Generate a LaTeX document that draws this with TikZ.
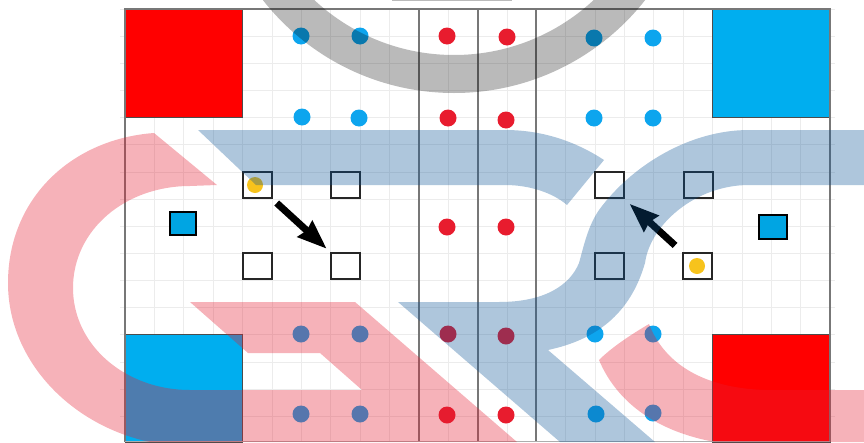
\documentclass[tikz,border=0pt]{standalone}
\usepackage{xcolor}
\definecolor{cRed}{HTML}{FF0000}
\definecolor{cBlue}{HTML}{00AEEF}
\definecolor{cDotR}{HTML}{E81C2E}
\definecolor{cDotB}{HTML}{0DA5EE}
\definecolor{cGold}{HTML}{F7C31C}
\definecolor{rule}{HTML}{777777}
\definecolor{gridc}{HTML}{ECECEC}
\definecolor{markR}{HTML}{E51E32}
\definecolor{markB}{HTML}{0A5294}
\usetikzlibrary{arrows.meta}

\begin{document}
\begin{tikzpicture}[
  x=1pt,y=-1pt,
  zone/.style={draw=black!70,line width=0.8pt,minimum width=117.5pt,minimum height=108pt,inner sep=0pt},
  redz/.style={zone,fill=cRed},
  bluez/.style={zone,fill=cBlue},
  reddot/.style={circle,fill=cDotR,minimum size=17pt,inner sep=0pt},
  bluedot/.style={circle,fill=cDotB,minimum size=17pt,inner sep=0pt},
  golddot/.style={circle,fill=cGold,minimum size=16pt,inner sep=0pt},
  cell/.style={draw=black!85,line width=2pt,minimum width=29pt,minimum height=26pt,inner sep=0pt},
  base/.style={draw=black,line width=2pt,fill=cBlue!95!black,minimum width=26pt,minimum height=23pt,inner sep=0pt},
  move/.style={-{Stealth[length=29pt,width=21pt,inset=2pt]},black,line width=7pt},
  markr/.style={fill=markR,fill opacity=0.34},
  markb/.style={fill=markB,fill opacity=0.33},
  markg/.style={fill=black,fill opacity=0.27}]
\useasboundingbox (0,0) rectangle (864,442);
% grid
\foreach \i in {0,...,24}
  \draw[gridc,line width=0.8pt] (125+29.38*\i,9) -- (125+29.38*\i,442);
\foreach \j in {0,...,15}
  \draw[gridc,line width=0.8pt] (120,9+27.15*\j) -- (835,9+27.15*\j);
% corner zones
\node[redz] (zoneTL) at (183.7,63) {};
\node[bluez] (zoneTR) at (771.5,63) {};
\node[bluez] (zoneBL) at (183.7,388) {};
\node[redz] (zoneBR) at (771.5,388) {};
% frame
\draw[rule,line width=1.5pt] (125,442) -- (125,9) -- (830,9) -- (830,442);
\foreach \x in {419,478,536}
  \draw[rule,line width=1.5pt] (\x,9) -- (\x,442);
\draw[rule!60,line width=0.8pt] (125,441.5) -- (830,441.5);
% dots
\foreach \n/\x/\y in {a/301/36,b/360/36,c/594/38,d/653/38,e/302/117,f/359/118,g/594/118,h/653/118,
    i/301/334,j/360/334,k/595/334,l/653/334,m/301/414,n/360/414,o/596/414,p/653/413}
  \node[bluedot] (blue\n) at (\x,\y) {};
\foreach \n/\x/\y in {a/447/36,b/507/37,c/448/118,d/506/120,e/447/227,f/506/227,g/448/334,h/506/336,i/447/415,j/506/415}
  \node[reddot] (red\n) at (\x,\y) {};
% cells and bases
\foreach \n/\x/\y in {la/257/185,lb/345/185,lc/257/265.5,ld/345/265.5,ra/609/185,rb/698/185,rc/609/265.5,rd/697/265.5}
  \node[cell] (cell\n) at (\x,\y) {};
\node[golddot] (ballL) at (255,185) {};
\node[golddot] (ballR) at (697,266) {};
\node[base] (baseL) at (182.5,223.5) {};
\node[base,minimum width=28pt,minimum height=24pt] (baseR) at (773,226.5) {};
\draw[move,shorten <=6pt,shorten >=4pt] (cellla) -- (cellld);
\draw[move,shorten <=9pt,shorten >=7pt] (cellrd) -- (cellra);
% overlay marks
\begin{scope}
\clip (0,0) rectangle (864,442);
\fill[markg,even odd rule] (454,-150) circle [radius=243] (454,-150) circle [radius=205];
\fill[black,opacity=0.27] (392,0) rectangle (512,1);
\fill[markr] (154,133) .. controls (72,139) and (8,198) .. (8,283)
  .. controls (8,360) and (70,425) .. (150,442) -- (517,442) -- (355,302) -- (190,302)
  -- (248,353) -- (320,353) -- (362,390) -- (190,390)
  .. controls (125,390) and (73,345) .. (73,288)
  .. controls (73,230) and (125,186) .. (190,186) -- (217,185) -- cycle;
\fill[markr] (649,324) .. controls (632,334) and (612,347) .. (599,360)
  .. controls (618,405) and (660,432) .. (715,442) -- (864,442) -- (864,390) -- (765,390)
  .. controls (705,388) and (665,365) .. cycle;
\fill[markb] (198,130) -- (505,130) .. controls (545,130) and (578,143) .. (604,160)
  -- (567,205) .. controls (553,193) and (530,185) .. (505,185) -- (256,185) -- cycle;
\fill[markb] (864,130) -- (749,130) .. controls (690,130) and (632,165) .. (599,210)
  .. controls (588,226) and (584,245) .. (579,263)
  .. controls (570,285) and (545,302) .. (499,302) -- (398,302) -- (560,442) -- (655,442) -- (548,350)
  .. controls (595,340) and (630,315) .. (645,263)
  .. controls (650,225) and (695,185) .. (749,185) -- (864,185) -- cycle;
\end{scope}
\end{tikzpicture}
\end{document}
